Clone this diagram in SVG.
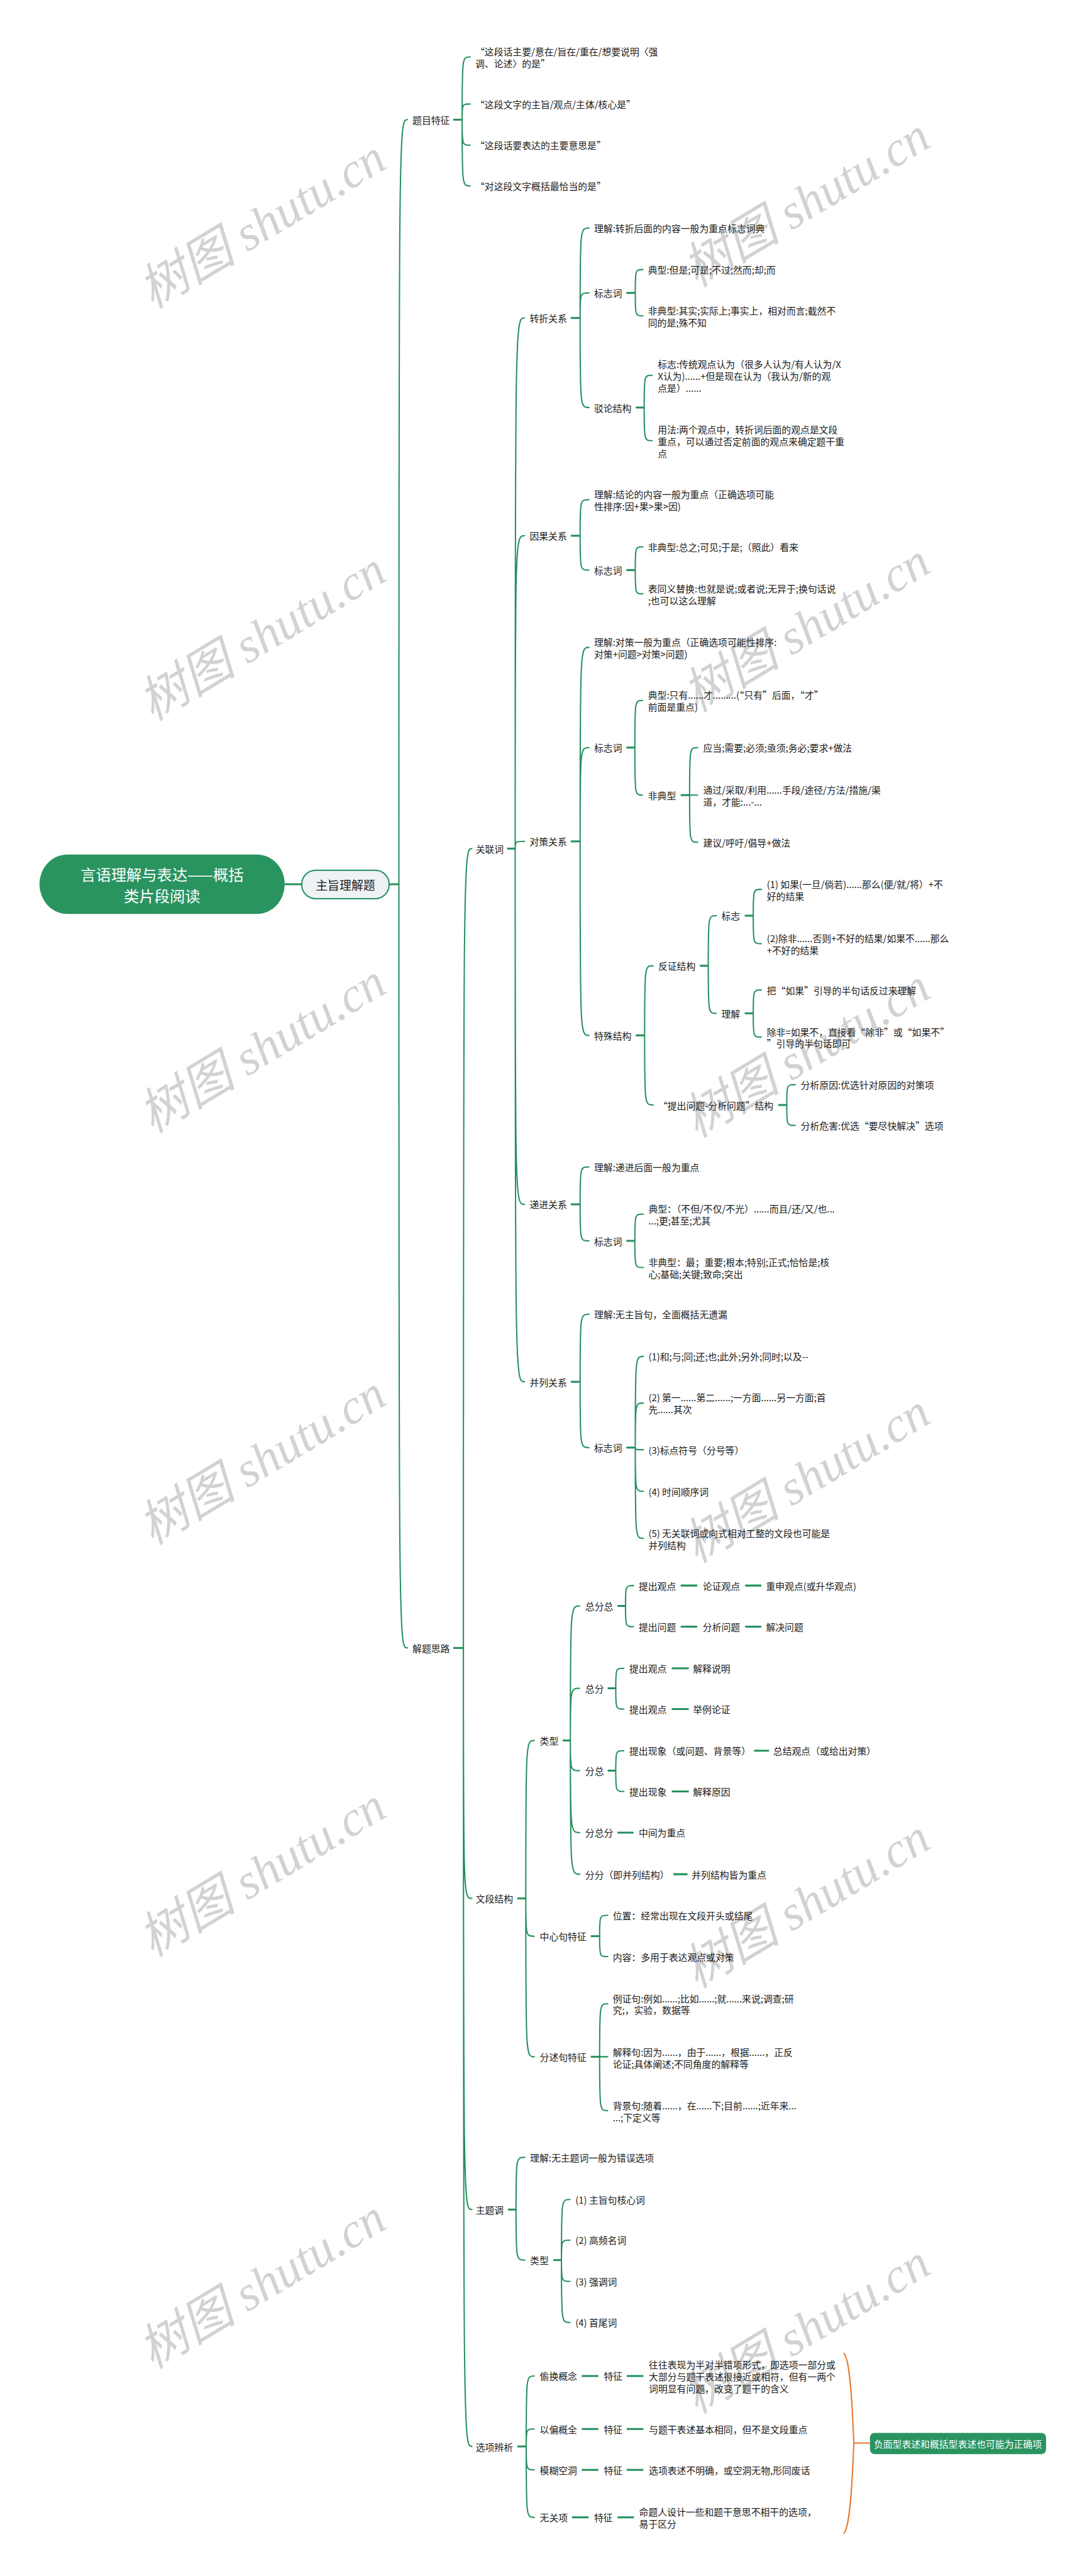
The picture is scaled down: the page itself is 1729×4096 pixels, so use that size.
<svg xmlns="http://www.w3.org/2000/svg" width="1729" height="4096" viewBox="0 0 1729 4096">
<style>
.t{font-family:"Noto Sans CJK SC","Noto Sans",sans-serif;font-size:22px;fill:#1a1a1a;dominant-baseline:central}
.c{fill:none;stroke:#23905d;stroke-width:3;stroke-linecap:round}
.s{fill:none;stroke:#23905d;stroke-width:4.5}
.o{fill:none;stroke:#e8782a;stroke-width:3}
.wm{font-family:"Liberation Serif","Noto Sans CJK SC",serif;font-size:116px;fill:#d2d2d2;font-style:italic}
</style>
<rect width="1729" height="4096" fill="#ffffff"/>
<g transform="scale(0.675)">
<g id="watermark">
<text class="wm" text-anchor="middle" x="638" y="561" transform="rotate(-31 638 561)">树图 shutu.cn</text>
<text class="wm" text-anchor="middle" x="638" y="1532" transform="rotate(-31 638 1532)">树图 shutu.cn</text>
<text class="wm" text-anchor="middle" x="638" y="2503" transform="rotate(-31 638 2503)">树图 shutu.cn</text>
<text class="wm" text-anchor="middle" x="638" y="3473" transform="rotate(-31 638 3473)">树图 shutu.cn</text>
<text class="wm" text-anchor="middle" x="638" y="4444" transform="rotate(-31 638 4444)">树图 shutu.cn</text>
<text class="wm" text-anchor="middle" x="638" y="5414" transform="rotate(-31 638 5414)">树图 shutu.cn</text>
<text class="wm" text-anchor="middle" x="1920" y="510" transform="rotate(-31 1920 510)">树图 shutu.cn</text>
<text class="wm" text-anchor="middle" x="1920" y="1512" transform="rotate(-31 1920 1512)">树图 shutu.cn</text>
<text class="wm" text-anchor="middle" x="1920" y="2514" transform="rotate(-31 1920 2514)">树图 shutu.cn</text>
<text class="wm" text-anchor="middle" x="1920" y="3516" transform="rotate(-31 1920 3516)">树图 shutu.cn</text>
<text class="wm" text-anchor="middle" x="1920" y="4518" transform="rotate(-31 1920 4518)">树图 shutu.cn</text>
<text class="wm" text-anchor="middle" x="1920" y="5520" transform="rotate(-31 1920 5520)">树图 shutu.cn</text>
</g>

<g id="connectors">
<path class="s" d="M671,2083H711M917,2083H940"/>
<path class="c" d="M940,2083C940,282 940,282 960,282M940,2083C940,3882 940,3882 960,3882"/>
<path class="s" d="M1068,282H1089"/>
<path class="c" d="M1089,282C1089,134 1089,134 1108,134M1089,282C1089,245 1089,245 1108,245M1089,282C1089,342 1089,342 1108,342M1089,282C1089,438 1089,438 1108,438"/>
<path class="s" d="M1068,3882H1092"/>
<path class="c" d="M1092,3882C1092,1999 1092,1999 1112,1999M1092,3882C1092,4472 1092,4472 1112,4472M1092,3882C1092,5205 1092,5205 1112,5205M1092,3882C1092,5763 1092,5763 1112,5763"/>
<path class="s" d="M1195,1999H1214"/>
<path class="c" d="M1214,1999C1214,749 1214,749 1236,749M1214,1999C1214,1262 1214,1262 1236,1262M1214,1999C1214,1982 1214,1982 1236,1982M1214,1999C1214,2837 1214,2837 1236,2837M1214,1999C1214,3255 1214,3255 1236,3255"/>
<path class="s" d="M1345,749H1367"/>
<path class="c" d="M1367,749C1367,537 1367,537 1388,537M1367,749C1367,690 1367,690 1388,690M1367,749C1367,960 1367,960 1388,960"/>
<path class="s" d="M1476,690H1497"/>
<path class="c" d="M1497,690C1497,635 1497,635 1515,635M1497,690C1497,744 1497,744 1515,744"/>
<path class="s" d="M1498,960H1518"/>
<path class="c" d="M1518,960C1518,884 1518,884 1537,884M1518,960C1518,1038 1518,1038 1537,1038"/>
<path class="s" d="M1345,1262H1367"/>
<path class="c" d="M1367,1262C1367,1177 1367,1177 1388,1177M1367,1262C1367,1343 1367,1343 1388,1343"/>
<path class="s" d="M1476,1343H1497"/>
<path class="c" d="M1497,1343C1497,1288 1497,1288 1515,1288M1497,1343C1497,1399 1497,1399 1515,1399"/>
<path class="s" d="M1345,1982H1367"/>
<path class="c" d="M1367,1982C1367,1525 1367,1525 1388,1525M1367,1982C1367,1761 1367,1761 1388,1761M1367,1982C1367,2439 1367,2439 1388,2439"/>
<path class="s" d="M1476,1761H1496"/>
<path class="c" d="M1496,1761C1496,1650 1496,1650 1514,1650M1496,1761C1496,1873 1496,1873 1514,1873"/>
<path class="s" d="M1604,1873H1625"/>
<path class="c" d="M1625,1873C1625,1761 1625,1761 1644,1761M1625,1873H1644M1625,1873C1625,1984 1625,1984 1644,1984"/>
<path class="s" d="M1498,2439H1519"/>
<path class="c" d="M1519,2439C1519,2275 1519,2275 1539,2275M1519,2439C1519,2603 1519,2603 1539,2603"/>
<path class="s" d="M1649,2275H1669"/>
<path class="c" d="M1669,2275C1669,2157 1669,2157 1688,2157M1669,2275C1669,2387 1669,2387 1688,2387"/>
<path class="s" d="M1755,2157H1775M1755,2387H1775"/>
<path class="c" d="M1775,2157C1775,2095 1775,2095 1794,2095M1775,2157C1775,2223 1775,2223 1794,2223M1775,2387C1775,2332 1775,2332 1794,2332M1775,2387C1775,2443 1775,2443 1794,2443"/>
<path class="s" d="M1834,2603H1854"/>
<path class="c" d="M1854,2603C1854,2555 1854,2555 1874,2555M1854,2603C1854,2651 1854,2651 1874,2651"/>
<path class="s" d="M1345,2837H1367"/>
<path class="c" d="M1367,2837C1367,2749 1367,2749 1388,2749M1367,2837C1367,2923 1367,2923 1388,2923"/>
<path class="s" d="M1476,2923H1496"/>
<path class="c" d="M1496,2923C1496,2860 1496,2860 1516,2860M1496,2923C1496,2986 1496,2986 1516,2986"/>
<path class="s" d="M1345,3255H1367"/>
<path class="c" d="M1367,3255C1367,3096 1367,3096 1388,3096M1367,3255C1367,3410 1367,3410 1388,3410"/>
<path class="s" d="M1476,3410H1497"/>
<path class="c" d="M1497,3410C1497,3195 1497,3195 1516,3195M1497,3410C1497,3305 1497,3305 1516,3305M1497,3410C1497,3415 1497,3415 1516,3415M1497,3410C1497,3513 1497,3513 1516,3513M1497,3410C1497,3624 1497,3624 1516,3624"/>
<path class="s" d="M1219,4472H1239"/>
<path class="c" d="M1239,4472C1239,4100 1239,4100 1259,4100M1239,4472C1239,4561 1239,4561 1259,4561M1239,4472C1239,4845 1239,4845 1259,4845"/>
<path class="s" d="M1326,4100H1344"/>
<path class="c" d="M1344,4100C1344,3783 1344,3783 1366,3783M1344,4100C1344,3977 1344,3977 1366,3977M1344,4100C1344,4171 1344,4171 1366,4171M1344,4100C1344,4317 1344,4317 1366,4317M1344,4100C1344,4415 1344,4415 1366,4415"/>
<path class="s" d="M1455,3783H1474"/>
<path class="c" d="M1474,3783C1474,3735 1474,3735 1493,3735M1474,3783C1474,3832 1474,3832 1493,3832"/>
<path class="s" d="M1604,3735H1643M1756,3735H1794M1604,3832H1643M1756,3832H1794"/>
<path class="s" d="M1432,3977H1451"/>
<path class="c" d="M1451,3977C1451,3930 1451,3930 1470,3930M1451,3977C1451,4026 1451,4026 1470,4026"/>
<path class="s" d="M1583,3930H1623M1583,4026H1623"/>
<path class="s" d="M1432,4171H1451"/>
<path class="c" d="M1451,4171C1451,4124 1451,4124 1470,4124M1451,4171C1451,4220 1451,4220 1470,4220"/>
<path class="s" d="M1777,4124H1812M1583,4220H1623"/>
<path class="s" d="M1455,4317H1493M1587,4415H1620"/>
<path class="s" d="M1392,4561H1413"/>
<path class="c" d="M1413,4561C1413,4512 1413,4512 1432,4512M1413,4561C1413,4609 1413,4609 1432,4609"/>
<path class="s" d="M1392,4845H1413"/>
<path class="c" d="M1413,4845C1413,4720 1413,4720 1432,4720M1413,4845H1432M1413,4845C1413,4972 1413,4972 1432,4972"/>
<path class="s" d="M1197,5205H1216"/>
<path class="c" d="M1216,5205C1216,5082 1216,5082 1237,5082M1216,5205C1216,5324 1216,5324 1237,5324"/>
<path class="s" d="M1304,5324H1323"/>
<path class="c" d="M1323,5324C1323,5181 1323,5181 1343,5181M1323,5324C1323,5277 1323,5277 1343,5277M1323,5324C1323,5374 1323,5374 1343,5374M1323,5324C1323,5471 1323,5471 1343,5471"/>
<path class="s" d="M1219,5763H1240"/>
<path class="c" d="M1240,5763C1240,5597 1240,5597 1259,5597M1240,5763C1240,5722 1240,5722 1259,5722M1240,5763C1240,5818 1240,5818 1259,5818M1240,5763C1240,5930 1240,5930 1259,5930"/>
<path class="s" d="M1371,5597H1410M1477,5597H1516M1371,5722H1410M1477,5722H1516M1371,5818H1410M1477,5818H1516M1348,5930H1387M1455,5930H1494"/>
<path class="o" d="M1988,5543C2002,5553 2008,5650 2012,5755C2008,5860 2002,5958 1988,5968"/>
<path class="o" d="M2012,5755H2050" stroke-width="4"/>
</g>

<g id="root">
<rect x="93" y="2013" width="578" height="140" rx="66" ry="70" fill="#2a9461"/>
<text x="382" y="2059" text-anchor="middle" style="font-family:'Noto Sans CJK SC',sans-serif;font-size:36px;fill:#ffffff;dominant-baseline:central">言语理解与表达——概括</text>
<text x="382" y="2109" text-anchor="middle" style="font-family:'Noto Sans CJK SC',sans-serif;font-size:36px;fill:#ffffff;dominant-baseline:central">类片段阅读</text>
</g>
<g id="n-zhuzhi">
<rect x="711" y="2050" width="206" height="67" rx="33" fill="#eef2f5" stroke="#23905d" stroke-width="3"/>
<text class="t" x="814" y="2083" text-anchor="middle" style="font-size:28px">主旨理解题</text>
</g>

<g id="n-timu"><text class="t" x="972" y="282">题目特征</text></g>
<g id="n-timu1"><text class="t" x="1120" y="120"><tspan x="1120">“这段话主要/意在/旨在/重在/想要说明〈强</tspan><tspan x="1120" dy="28">调、论述〉的是”</tspan></text></g>
<g id="n-timu2"><text class="t" x="1120" y="245">“这段文字的主旨/观点/主体/核心是”</text></g>
<g id="n-timu3"><text class="t" x="1120" y="342">“这段话要表达的主要意思是”</text></g>
<g id="n-timu4"><text class="t" x="1120" y="438">“对这段文字概括最恰当的是”</text></g>

<g id="n-jieti"><text class="t" x="972" y="3882">解题思路</text></g>
<g id="n-guanlian"><text class="t" x="1121" y="1999">关联词</text></g>

<g id="n-zhuanzhe"><text class="t" x="1248" y="749">转折关系</text></g>
<g id="n-zz-lj"><text class="t" x="1400" y="537">理解:转折后面的内容一般为重点标志词典</text></g>
<g id="n-zz-bzc"><text class="t" x="1400" y="690">标志词</text></g>
<g id="n-zz-dx"><text class="t" x="1527" y="635">典型:但是;可是;不过;然而;却;而</text></g>
<g id="n-zz-fdx"><text class="t" x="1527" y="730"><tspan x="1527">非典型:其实;实际上;事实上，相对而言;截然不</tspan><tspan x="1527" dy="28">同的是;殊不知</tspan></text></g>
<g id="n-zz-bl"><text class="t" x="1400" y="960">驳论结构</text></g>
<g id="n-zz-bz"><text class="t" x="1550" y="856"><tspan x="1550">标志:传统观点认为（很多人认为/有人认为/X</tspan><tspan x="1550" dy="28">X认为)......+但是现在认为（我认为/新的观</tspan><tspan x="1550" dy="28">点是）......</tspan></text></g>
<g id="n-zz-yf"><text class="t" x="1550" y="1010"><tspan x="1550">用法:两个观点中，转折词后面的观点是文段</tspan><tspan x="1550" dy="28">重点，可以通过否定前面的观点来确定题干重</tspan><tspan x="1550" dy="28">点</tspan></text></g>

<g id="n-yinguo"><text class="t" x="1248" y="1262">因果关系</text></g>
<g id="n-yg-lj"><text class="t" x="1400" y="1163"><tspan x="1400">理解:结论的内容一般为重点（正确选项可能</tspan><tspan x="1400" dy="28">性排序:因+果&gt;果&gt;因)</tspan></text></g>
<g id="n-yg-bzc"><text class="t" x="1400" y="1343">标志词</text></g>
<g id="n-yg-fdx"><text class="t" x="1527" y="1288">非典型:总之;可见;于是;（照此）看来</text></g>
<g id="n-yg-tyy"><text class="t" x="1527" y="1385"><tspan x="1527">表同义替换:也就是说;或者说;无异于;换句话说</tspan><tspan x="1527" dy="28">;也可以这么理解</tspan></text></g>

<g id="n-duice"><text class="t" x="1248" y="1982">对策关系</text></g>
<g id="n-dc-lj"><text class="t" x="1400" y="1511"><tspan x="1400">理解:对策一般为重点（正确选项可能性排序:</tspan><tspan x="1400" dy="28">对策+问题&gt;对策&gt;问题)</tspan></text></g>
<g id="n-dc-bzc"><text class="t" x="1400" y="1761">标志词</text></g>
<g id="n-dc-dx"><text class="t" x="1527" y="1636"><tspan x="1527">典型:只有......才.........(“只有”后面，“才”</tspan><tspan x="1527" dy="28">前面是重点)</tspan></text></g>
<g id="n-dc-fdx"><text class="t" x="1527" y="1873">非典型</text></g>
<g id="n-dc-f1"><text class="t" x="1657" y="1761">应当;需要;必须;亟须;务必;要求+做法</text></g>
<g id="n-dc-f2"><text class="t" x="1657" y="1859"><tspan x="1657">通过/采取/利用......手段/途径/方法/措施/渠</tspan><tspan x="1657" dy="28">道，才能:...-...</tspan></text></g>
<g id="n-dc-f3"><text class="t" x="1657" y="1984">建议/呼吁/倡导+做法</text></g>
<g id="n-dc-ts"><text class="t" x="1400" y="2439">特殊结构</text></g>
<g id="n-dc-fz"><text class="t" x="1551" y="2275">反证结构</text></g>
<g id="n-dc-fz-bz"><text class="t" x="1700" y="2157">标志</text></g>
<g id="n-dc-fz-b1"><text class="t" x="1807" y="2081"><tspan x="1807">(1) 如果(一旦/倘若)......那么(便/就/将）+不</tspan><tspan x="1807" dy="28">好的结果</tspan></text></g>
<g id="n-dc-fz-b2"><text class="t" x="1807" y="2209"><tspan x="1807">(2)除非......否则+不好的结果/如果不......那么</tspan><tspan x="1807" dy="28">+不好的结果</tspan></text></g>
<g id="n-dc-fz-lj"><text class="t" x="1700" y="2387">理解</text></g>
<g id="n-dc-fz-l1"><text class="t" x="1807" y="2332">把“如果”引导的半句话反过来理解</text></g>
<g id="n-dc-fz-l2"><text class="t" x="1807" y="2429"><tspan x="1807">除非=如果不，直接看“除非”或“如果不”</tspan><tspan x="1807" dy="28">”引导的半句话即可</tspan></text></g>
<g id="n-dc-tc"><text class="t" x="1551" y="2603">“提出问题-分析问题”结构</text></g>
<g id="n-dc-tc1"><text class="t" x="1887" y="2555">分析原因:优选针对原因的对策项</text></g>
<g id="n-dc-tc2"><text class="t" x="1887" y="2651">分析危害:优选“要尽快解决”选项</text></g>

<g id="n-dijin"><text class="t" x="1248" y="2837">递进关系</text></g>
<g id="n-dj-lj"><text class="t" x="1400" y="2749">理解:递进后面一般为重点</text></g>
<g id="n-dj-bzc"><text class="t" x="1400" y="2923">标志词</text></g>
<g id="n-dj-dx"><text class="t" x="1528" y="2846"><tspan x="1528">典型：（不但/不仅/不光）......而且/还/又/也...</tspan><tspan x="1528" dy="28">...;更;甚至;尤其</tspan></text></g>
<g id="n-dj-fdx"><text class="t" x="1528" y="2972"><tspan x="1528">非典型：最；重要;根本;特别;正式;恰恰是;核</tspan><tspan x="1528" dy="28">心;基础;关键;致命;突出</tspan></text></g>

<g id="n-binglie"><text class="t" x="1248" y="3255">并列关系</text></g>
<g id="n-bl-lj"><text class="t" x="1400" y="3096">理解:无主旨句，全面概括无遗漏</text></g>
<g id="n-bl-bzc"><text class="t" x="1400" y="3410">标志词</text></g>
<g id="n-bl-1"><text class="t" x="1528" y="3195">(1)和;与;同;还;也;此外;另外;同时;以及--</text></g>
<g id="n-bl-2"><text class="t" x="1528" y="3291"><tspan x="1528">(2) 第一......第二......;一方面......另一方面;首</tspan><tspan x="1528" dy="28">先......其次</tspan></text></g>
<g id="n-bl-3"><text class="t" x="1528" y="3415">(3)标点符号（分号等）</text></g>
<g id="n-bl-4"><text class="t" x="1528" y="3513">(4) 时间顺序词</text></g>
<g id="n-bl-5"><text class="t" x="1528" y="3610"><tspan x="1528">(5) 无关联词或向式相对工整的文段也可能是</tspan><tspan x="1528" dy="28">并列结构</tspan></text></g>

<g id="n-wdjg"><text class="t" x="1121" y="4472">文段结构</text></g>
<g id="n-wd-lx"><text class="t" x="1272" y="4100">类型</text></g>
<g id="n-wd-zfz"><text class="t" x="1379" y="3783">总分总</text></g>
<g id="n-wd-zfz1"><text class="t" x="1505" y="3735">提出观点</text><text class="t" x="1656" y="3735">论证观点</text><text class="t" x="1805" y="3735">重申观点(或升华观点)</text></g>
<g id="n-wd-zfz2"><text class="t" x="1505" y="3832">提出问题</text><text class="t" x="1656" y="3832">分析问题</text><text class="t" x="1805" y="3832">解决问题</text></g>
<g id="n-wd-zf"><text class="t" x="1379" y="3977">总分</text></g>
<g id="n-wd-zf1"><text class="t" x="1483" y="3930">提出观点</text><text class="t" x="1633" y="3930">解释说明</text></g>
<g id="n-wd-zf2"><text class="t" x="1483" y="4026">提出观点</text><text class="t" x="1633" y="4026">举例论证</text></g>
<g id="n-wd-fz"><text class="t" x="1379" y="4171">分总</text></g>
<g id="n-wd-fz1"><text class="t" x="1483" y="4124">提出现象（或问题、背景等）</text><text class="t" x="1822" y="4124">总结观点（或给出对策）</text></g>
<g id="n-wd-fz2"><text class="t" x="1483" y="4220">提出现象</text><text class="t" x="1633" y="4220">解释原因</text></g>
<g id="n-wd-fzf"><text class="t" x="1379" y="4317">分总分</text><text class="t" x="1505" y="4317">中间为重点</text></g>
<g id="n-wd-ff"><text class="t" x="1379" y="4415">分分（即并列结构）</text><text class="t" x="1630" y="4415">并列结构皆为重点</text></g>
<g id="n-wd-zxj"><text class="t" x="1272" y="4561">中心句特征</text></g>
<g id="n-wd-zxj1"><text class="t" x="1444" y="4512">位置：经常出现在文段开头或结尾</text></g>
<g id="n-wd-zxj2"><text class="t" x="1444" y="4609">内容：多用于表达观点或对策</text></g>
<g id="n-wd-fsj"><text class="t" x="1272" y="4845">分述句特征</text></g>
<g id="n-wd-fsj1"><text class="t" x="1444" y="4706"><tspan x="1444">例证句:例如......;比如......;就......来说;调查;研</tspan><tspan x="1444" dy="28">究;，实验，数据等</tspan></text></g>
<g id="n-wd-fsj2"><text class="t" x="1444" y="4832"><tspan x="1444">解释句:因为......，由于......，根据......，正反</tspan><tspan x="1444" dy="28">论证;具体阐述;不同角度的解释等</tspan></text></g>
<g id="n-wd-fsj3"><text class="t" x="1444" y="4958"><tspan x="1444">背景句:随着......，在......下;目前......;近年来...</tspan><tspan x="1444" dy="28">...;下定义等</tspan></text></g>

<g id="n-ztc"><text class="t" x="1121" y="5205">主题调</text></g>
<g id="n-ztc-lj"><text class="t" x="1249" y="5082">理解:无主题词一般为错误选项</text></g>
<g id="n-ztc-lx"><text class="t" x="1249" y="5324">类型</text></g>
<g id="n-ztc-1"><text class="t" x="1356" y="5181">(1) 主旨句核心词</text></g>
<g id="n-ztc-2"><text class="t" x="1356" y="5277">(2) 高频名词</text></g>
<g id="n-ztc-3"><text class="t" x="1356" y="5374">(3) 强调词</text></g>
<g id="n-ztc-4"><text class="t" x="1356" y="5471">(4) 首尾词</text></g>

<g id="n-xxbx"><text class="t" x="1121" y="5763">选项辨析</text></g>
<g id="n-xx-1"><text class="t" x="1272" y="5597">偷换概念</text><text class="t" x="1423" y="5597">特征</text><text class="t" x="1529" y="5569"><tspan x="1529">往往表现为半对半错项形式，即选项一部分或</tspan><tspan x="1529" dy="28">大部分与题干表述很接近或相符，但有一两个</tspan><tspan x="1529" dy="28">词明显有问题，改变了题干的含义</tspan></text></g>
<g id="n-xx-2"><text class="t" x="1272" y="5722">以偏概全</text><text class="t" x="1423" y="5722">特征</text><text class="t" x="1529" y="5722">与题干表述基本相同，但不是文段重点</text></g>
<g id="n-xx-3"><text class="t" x="1272" y="5818">模糊空洞</text><text class="t" x="1423" y="5818">特征</text><text class="t" x="1529" y="5818">选项表述不明确，或空洞无物,形同废话</text></g>
<g id="n-xx-4"><text class="t" x="1272" y="5930">无关项</text><text class="t" x="1400" y="5930">特征</text><text class="t" x="1506" y="5916"><tspan x="1506">命题人设计一些和题干意思不相干的选项，</tspan><tspan x="1506" dy="28">易于区分</tspan></text></g>
<g id="n-summary">
<rect x="2050" y="5731" width="415" height="50" rx="11" fill="#2a9461"/>
<text class="t" x="2257" y="5756" text-anchor="middle" style="fill:#ffffff">负面型表述和概括型表述也可能为正确项</text>
</g>
</g>
</svg>
